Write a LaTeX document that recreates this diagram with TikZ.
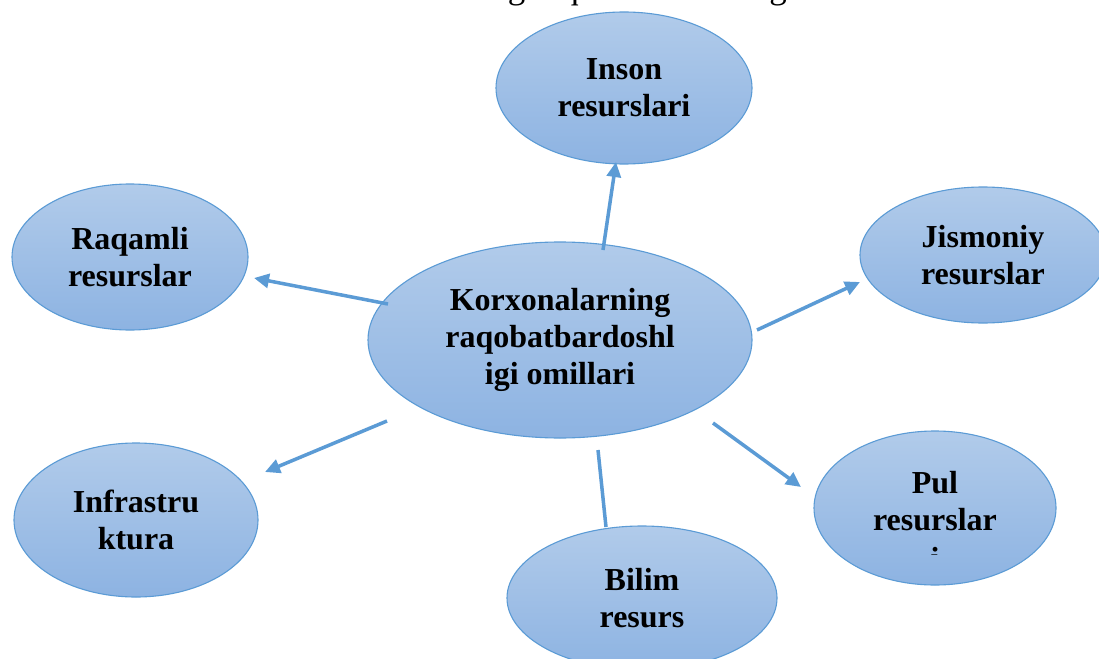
\documentclass[tikz,border=0pt]{standalone}
\usepackage{fontspec}
\setmainfont{Liberation Serif}
\usetikzlibrary{shapes.geometric,arrows.meta}
\definecolor{ctop}{HTML}{B1CBEA}
\definecolor{cbot}{HTML}{8DB3E2}
\definecolor{edge}{HTML}{5B9BD5}
\begin{document}
\begin{tikzpicture}[x=1pt,y=-1pt,
  res/.style={ellipse,draw=edge,line width=1.1pt,top color=ctop,bottom color=cbot,
    inner sep=0pt,align=center,font=\bfseries\fontsize{32}{37}\selectfont},
  arr/.style={draw=edge,line width=3.5pt,-{Triangle[length=15pt,width=14pt]}},
  link/.style={draw=edge,line width=3.5pt}]
\clip (0,0) rectangle (1099,658);
\fill[white] (0,0) rectangle (1099,658);
\node[font=\fontsize{35}{40}\selectfont,anchor=base,inner sep=0pt] (title) at (610,-1.5)
  {Korxonalarning raqobatbardoshligi omillari};

\node[res,minimum width=384pt,minimum height=196pt] (c) at (560,340)
  {Korxonalarning\\raqobatbardoshl\\igi omillari};
\node[res,minimum width=256pt,minimum height=152pt] (inson) at (624,88) {Inson\\resurslari};
\node[res,minimum width=236pt,minimum height=146pt] (raqam) at (130,257) {Raqamli\\resurslar};
\node[res,minimum width=246pt,minimum height=136pt] (jism) at (983,255) {Jismoniy\\resurslar};
\node[res,minimum width=244pt,minimum height=154pt] (infra) at (136,520) {Infrastru\\ktura};
\node[res,minimum width=242pt,minimum height=154pt] (pul) at (935,508) {Pul\\resurslar\\[-22pt]\mbox{}};
\node[res,minimum width=270pt,minimum height=144pt] (bilim) at (642,598) {Bilim\\resurs};

\begin{scope}
  \clip (880,520) rectangle (990,554);
  \node[font=\bfseries\fontsize{32}{37}\selectfont,anchor=base,inner sep=0pt] (puli) at (935,569) {i};
\end{scope}

\coordinate (s1) at (603,250); \coordinate (e1) at (616,162);
\coordinate (s2) at (388,304); \coordinate (e2) at (254,278);
\coordinate (s3) at (757,330); \coordinate (e3) at (860,282);
\coordinate (s4) at (387,421); \coordinate (e4) at (265,472);
\coordinate (s5) at (713,423); \coordinate (e5) at (801,487);
\coordinate (s6) at (598,450); \coordinate (e6) at (606,527);

\draw[arr] (s1) -- (e1);
\draw[arr] (s2) -- (e2);
\draw[arr] (s3) -- (e3);
\draw[arr] (s4) -- (e4);
\draw[arr] (s5) -- (e5);
\draw[link] (s6) -- (e6);
\end{tikzpicture}
\end{document}
